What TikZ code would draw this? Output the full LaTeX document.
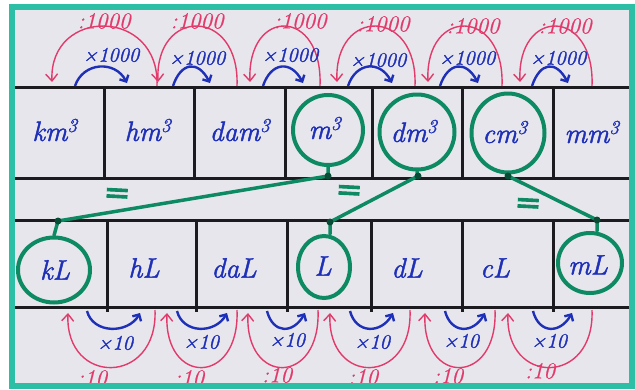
\documentclass[tikz,border=0pt]{standalone}
\usepackage{fontspec}
\usetikzlibrary{arrows.meta,shapes.geometric}
\definecolor{tealframe}{HTML}{2DBFA5}
\definecolor{board}{HTML}{E7E6ED}
\definecolor{ink}{HTML}{1C1B1F}
\definecolor{bluei}{HTML}{1F30B8}
\definecolor{redi}{HTML}{E23A6B}
\definecolor{greeni}{HTML}{0E8A62}
\newfontfamily\eqfont[FakeBold=3]{DejaVu Sans}
\newfontfamily\hand[FakeBold=1.6]{Latin Modern Roman}
\newfontfamily\handthin[FakeBold=0.8]{Latin Modern Roman}
\begin{document}
\begin{tikzpicture}[x=1pt,y=-1pt,
 gridline/.style={ink,line width=3pt},
 unit/.style={text=bluei,font=\fontsize{28}{30}\hand\itshape,inner sep=0pt},
 redlbl/.style={text=redi,font=\fontsize{23}{25}\handthin\itshape,inner sep=0pt},
 bluelbl/.style={text=bluei,font=\fontsize{20.5}{22}\hand\itshape,inner sep=0pt},
 redarc/.style={redi,line width=1.4pt,-{Straight Barb[length=7pt,width=12pt]}},
 bluearc/.style={bluei,line width=2.4pt,-{Straight Barb[length=5pt,width=10pt]}},
 ring/.style={draw=greeni,line width=4pt,ellipse,inner sep=0pt},
 link/.style={greeni,line width=3.5pt,line cap=round},
 dotmark/.style={circle,fill=greeni!55!black,inner sep=0pt,minimum size=7pt},
 eqsign/.style={text=greeni,font=\fontsize{32}{32}\eqfont,inner sep=0pt}
]
\useasboundingbox (0,0) rectangle (635,389);
\fill[white] (0,0) rectangle (635,389);
\fill[board] (12,6.5) rectangle (631.5,386);

% tables
\draw[gridline] (14,87) -- (629,87);
\draw[gridline] (14,178) -- (629,178);
\foreach \x in {104,194,285,372,462,553} \draw[gridline] (\x,87) -- (\x,178);
\draw[gridline] (14,220) -- (629,220);
\draw[gridline] (14,307) -- (629,307);
\foreach \x in {107,196,287,371,462,553} \draw[gridline] (\x,220) -- (\x,312);

% green rings
\node[ring,minimum width=70pt,minimum height=70pt] (rm) at (328,130) {};
\node[ring,minimum width=75pt,minimum height=75pt] (rdm) at (417,132) {};
\node[ring,minimum width=73pt,minimum height=79pt] (rcm) at (508,133) {};
\node[ring,minimum width=72pt,minimum height=65pt] (rkl) at (54,270) {};
\node[ring,minimum width=52pt,minimum height=62pt] (rl) at (324,267) {};
\node[ring,minimum width=64pt,minimum height=60pt] (rml) at (590,263) {};

% units top
\node[unit] (km) at (55,130) {km\textsuperscript{3}};
\node[unit] (hm) at (148,130) {hm\textsuperscript{3}};
\node[unit] (dam) at (240,130) {dam\textsuperscript{3}};
\node[unit] (m) at (325,128) {m\textsuperscript{3}};
\node[unit] (dm) at (414,131) {dm\textsuperscript{3}};
\node[unit] (cm) at (505,132) {cm\textsuperscript{3}};
\node[unit] (mm) at (592,132) {mm\textsuperscript{3}};
% units bottom
\node[unit] (kl) at (55,270) {kL};
\node[unit] (hl) at (144,268) {hL};
\node[unit] (dal) at (234,268) {daL};
\node[unit] (l) at (323,266) {L};
\node[unit] (dl) at (407,268) {dL};
\node[unit] (cl) at (495,268) {cL};
\node[unit] (ml) at (588,265) {mL};

% green links
\coordinate (a1) at (328,176);
\coordinate (a2) at (58,221);
\coordinate (b1) at (418,176);
\coordinate (b2) at (330,222);
\coordinate (c1) at (508,176);
\coordinate (c2) at (597,220);
\draw[link] (rm.south) -- (a1) -- (a2) -- (rkl.north);
\draw[link] (rdm.south) -- (b1) -- (b2) -- (b2 |- rl.north);
\draw[link] (rcm.south) -- (c1) -- (c2) -- (c2 |- rml.north);
\foreach \p in {a1,a2,b1,b2,c1,c2} \node[dotmark] at (\p) {};
\node[eqsign,rotate=-3] (e1) at (117,196) {=};
\node[eqsign,rotate=-3] (e2) at (349,193) {=};
\node[eqsign,rotate=-3] (e3) at (528,206) {=};

% top arcs
\foreach \xl/\xr/\i in {52/157/1,158/237/2,250/320/3,337/415/4,428/502/5,520/592/6} {
  \coordinate (rs\i) at (\xr,86);
  \coordinate (re\i) at (\xl,82);
  \draw[redarc] (rs\i) .. controls (\xr+3,7) and (\xl-3,7) .. (re\i);
}
\foreach \xl/\xr/\i in {75/127/1,173/210/2,263/303/3,348/392/4,440/478/5,532/568/6} {
  \coordinate (bs\i) at (\xl,86);
  \coordinate (be\i) at (\xr,83);
  \draw[bluearc] (bs\i) .. controls (\xl+8,62) and (\xr-12,60) .. (be\i);
}
\foreach \x/\y/\i in {104/21/1,197/21/2,300/21/3,383/24/4,473/26/5,565/26/6}
  \node[redlbl] (td\i) at (\x,\y) {:1000};
\foreach \x/\y/\i in {111/55/1,197/58/2,290/55/3,378/60/4,467/58/5,558/58/6}
  \node[bluelbl] (tm\i) at (\x,\y) {×1000};

% bottom arcs
\foreach \xl/\xr/\i in {68/155/1,167/237/2,248/318/3,330/410/4,425/495/5,508/592/6} {
  \coordinate (brs\i) at (\xr,310);
  \coordinate (bre\i) at (\xl,313);
  \draw[redarc] (brs\i) .. controls (\xr+3,386) and (\xl-3,386) .. (bre\i);
}
\foreach \xl/\xr/\i in {87/140/1,177/227/2,267/305/3,350/393/4,445/485/5,533/572/6} {
  \coordinate (bbs\i) at (\xl,311);
  \coordinate (bbe\i) at (\xr,313);
  \draw[bluearc] (bbs\i) .. controls (\xl+6,334) and (\xr-12,334) .. (bbe\i);
}
\foreach \x/\y/\i in {115/343/1,201/342/2,287/340/3,372/342/4,461/341/5,549/341/6}
  \node[bluelbl] (bm\i) at (\x,\y) {×10};
\foreach \x/\y/\i in {92/378/1,189/378/2,277/375/3,363/377/4,448/376/5,540/371/6}
  \node[redlbl] (bd\i) at (\x,\y) {:10};

% frame
\draw[tealframe,line width=6pt] (12,6.5) rectangle (631.5,386);
\end{tikzpicture}
\end{document}
